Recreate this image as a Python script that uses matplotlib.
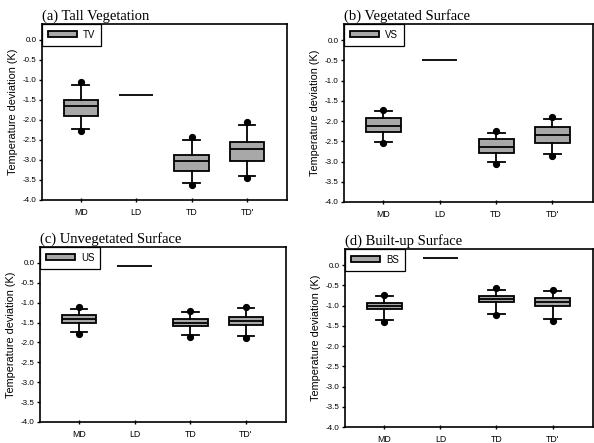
import matplotlib
matplotlib.use("Agg")
import matplotlib.pyplot as plt
from matplotlib.patches import Patch

categories = ["MD", "LD", "TD", "TD'"]
box_cats = ["MD", "TD", "TD'"]

titles = ["(a) Tall Vegetation", "(b) Vegetated Surface",
          "(c) Unvegetated Surface", "(d) Built-up Surface"]
legend_labels = ["TV", "VS", "US", "BS"]

# per panel: stats for MD, TD, TD' -> (low dot, low whisker, q1, median, q3, high whisker, high dot)
tv_stats = [(-2.27, -2.22, -1.90, -1.65, -1.50, -1.13, -1.05),
            (-3.63, -3.58, -3.27, -3.03, -2.88, -2.50, -2.43),
            (-3.45, -3.40, -3.02, -2.73, -2.55, -2.13, -2.04)]
vs_stats = [(-2.55, -2.52, -2.26, -2.12, -1.93, -1.76, -1.72),
            (-3.06, -3.02, -2.78, -2.63, -2.45, -2.30, -2.24),
            (-2.86, -2.82, -2.53, -2.34, -2.15, -1.95, -1.90)]
us_stats = [(-1.78, -1.73, -1.50, -1.42, -1.32, -1.15, -1.11),
            (-1.86, -1.82, -1.59, -1.51, -1.42, -1.23, -1.21),
            (-1.88, -1.83, -1.57, -1.47, -1.35, -1.13, -1.10)]
bs_stats = [(-1.40, -1.35, -1.08, -1.02, -0.94, -0.77, -0.74),
            (-1.23, -1.21, -0.92, -0.84, -0.76, -0.61, -0.57),
            (-1.37, -1.33, -1.02, -0.92, -0.81, -0.63, -0.61)]
panel_stats = [tv_stats, vs_stats, us_stats, bs_stats]

# LD single values
ld_values = [-1.37, -0.50, -0.08, 0.17]

yticks = [0.0, -0.5, -1.0, -1.5, -2.0, -2.5, -3.0, -3.5, -4.0]

W, H = 594, 443
fig = plt.figure(figsize=(W / 100, H / 100), dpi=100)

# axes rectangles in pixels: left, top, right, bottom
rects = [(42, 24, 287, 200), (344, 24, 593, 202),
         (40, 247, 286, 422), (345, 249, 593, 427)]

box_color = "#a8a8a8"
sans = "Liberation Sans"
serif = "Liberation Serif"
lw = 1.3

for i in range(4):
    l, t, r, b = rects[i]
    ax = fig.add_axes([l / W, 1 - b / H, (r - l) / W, (b - t) / H])
    stats = []
    for s in panel_stats[i]:
        stats.append(dict(whislo=s[1], q1=s[2], med=s[3], q3=s[4], whishi=s[5],
                          fliers=[s[0], s[6]]))
    ax.bxp(stats, positions=[1, 3, 4], widths=0.62, patch_artist=True,
           showfliers=True,
           boxprops=dict(facecolor=box_color, edgecolor="black", linewidth=lw),
           medianprops=dict(color="black", linewidth=lw),
           whiskerprops=dict(color="black", linewidth=lw),
           capprops=dict(color="black", linewidth=lw),
           capwidths=0.3,
           flierprops=dict(marker="o", markerfacecolor="black",
                           markeredgecolor="black", markersize=4.2))
    ax.hlines(ld_values[i], 2 - 0.31, 2 + 0.31, color="black", linewidth=lw)
    ax.set_xlim(0.3, 4.72)
    ax.set_ylim(-4.0, 0.4)
    ax.set_yticks(yticks)
    ax.set_yticklabels([f"{v:.1f}" for v in yticks], fontsize=5.8, family=sans)
    ax.set_xticks([1, 2, 3, 4])
    ax.set_xticklabels(categories, fontsize=6.3, family=sans)
    ax.tick_params(axis="y", direction="out", length=2, width=1.0, pad=2)
    ax.tick_params(axis="x", direction="inout", length=3, width=1.0, pad=4)
    for sp in ax.spines.values():
        sp.set_linewidth(1.2)
    ax.set_ylabel("Temperature deviation (K)", fontsize=7.8, family=sans, labelpad=3)
    ax.set_title(titles[i], loc="left", fontsize=10.5, family=serif, pad=3)
    leg = ax.legend(handles=[Patch(facecolor=box_color, edgecolor="black",
                                   linewidth=lw, label=legend_labels[i])],
                    loc="upper left", borderaxespad=0, fancybox=False,
                    framealpha=1, edgecolor="black",
                    prop=dict(family=sans, size=7),
                    handlelength=3.0, handleheight=0.6, borderpad=0.6,
                    handletextpad=0.6)
    leg.get_frame().set_linewidth(0.9)

fig.savefig("out.png", dpi=100)
